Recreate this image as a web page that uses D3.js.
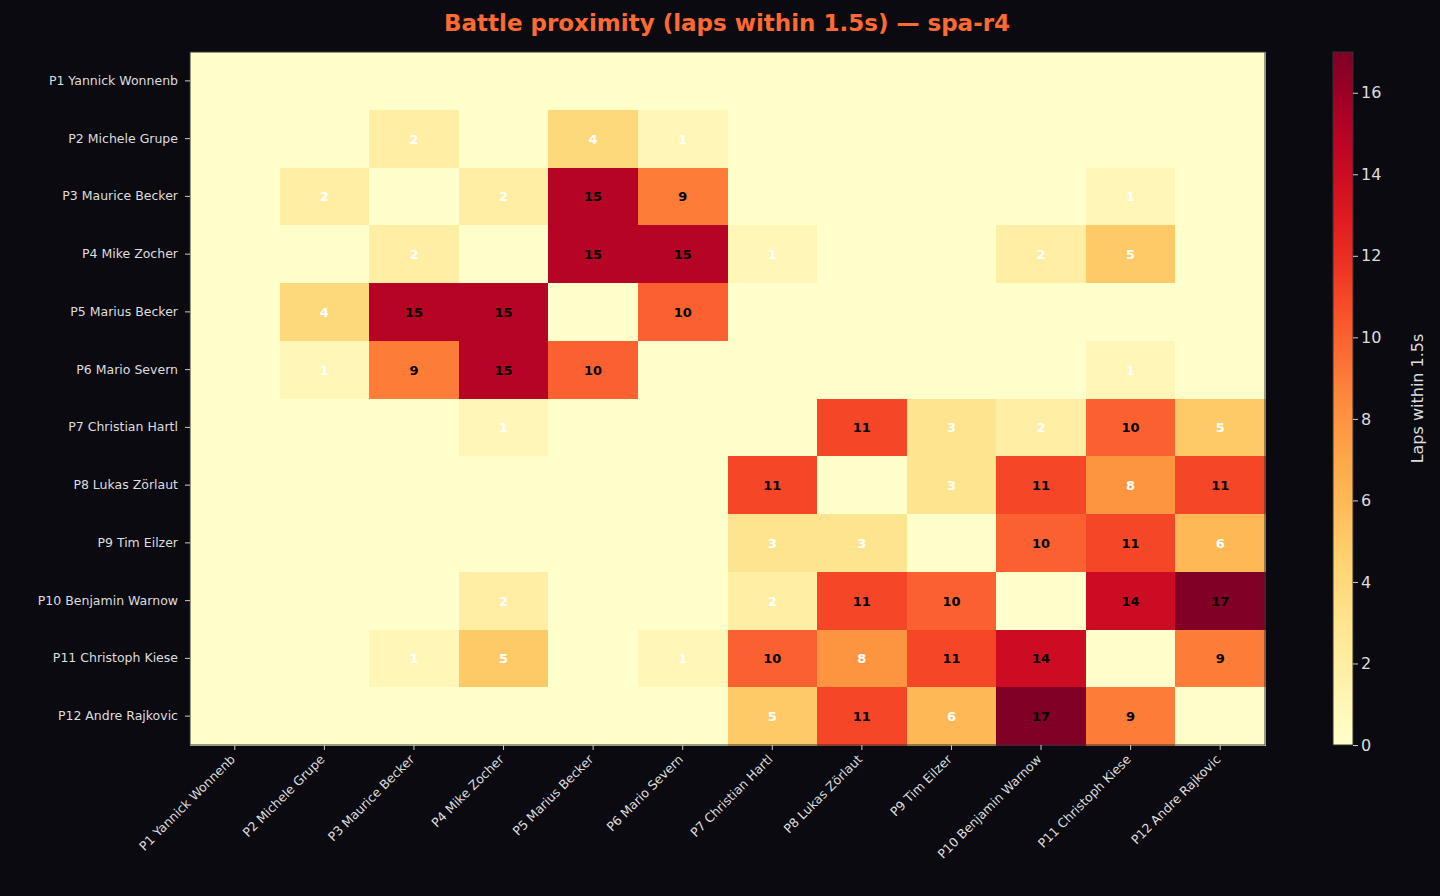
<!DOCTYPE html>
<html><head><meta charset="utf-8">
<script src="https://cdn.jsdelivr.net/npm/d3@7"></script>
<style>body{margin:0;background:#0b0a10;font-family:"DejaVu Sans",sans-serif}</style>
</head><body><svg id="c" width="1440" height="896"></svg>
<script>
var drivers = ["P1 Yannick Wonnenb","P2 Michele Grupe","P3 Maurice Becker","P4 Mike Zocher","P5 Marius Becker","P6 Mario Severn","P7 Christian Hartl","P8 Lukas Zörlaut","P9 Tim Eilzer","P10 Benjamin Warnow","P11 Christoph Kiese","P12 Andre Rajkovic"];
var laps = [
 [0,0,0,0,0,0,0,0,0,0,0,0],
 [0,0,2,0,4,1,0,0,0,0,0,0],
 [0,2,0,2,15,9,0,0,0,0,1,0],
 [0,0,2,0,15,15,1,0,0,2,5,0],
 [0,4,15,15,0,10,0,0,0,0,0,0],
 [0,1,9,15,10,0,0,0,0,0,1,0],
 [0,0,0,1,0,0,0,11,3,2,10,5],
 [0,0,0,0,0,0,11,0,3,11,8,11],
 [0,0,0,0,0,0,3,3,0,10,11,6],
 [0,0,0,2,0,0,2,11,10,0,14,17],
 [0,0,1,5,0,1,10,8,11,14,0,9],
 [0,0,0,0,0,0,5,11,6,17,9,0]
];
var cbTicks = [0,2,4,6,8,10,12,14,16];
var vmax = 17;

var svg = d3.select("#c");
var L = 190, R = 1265, T = 52, B = 745;
var x = d3.scaleBand().domain(drivers).range([L, R]);
var y = d3.scaleBand().domain(drivers).range([T, B]);
var color = d3.scaleSequential(d3.interpolateYlOrRd).domain([0, vmax]);

svg.append("text").attr("x", 727).attr("y", 31).attr("text-anchor", "middle")
  .attr("fill", "#ff6a33").attr("font-size", 23).attr("font-weight", "bold")
  .text("Battle proximity (laps within 1.5s) — spa-r4");

var cells = [];
laps.forEach(function (row, i) { row.forEach(function (v, j) { cells.push({r: i, c: j, v: v}); }); });

svg.selectAll("rect.cell").data(cells).enter().append("rect")
  .attr("shape-rendering", "crispEdges")
  .attr("x", function (d) { return x(drivers[d.c]); })
  .attr("y", function (d) { return y(drivers[d.r]); })
  .attr("width", x.bandwidth() + 1).attr("height", y.bandwidth() + 1)
  .attr("fill", function (d) { return color(d.v); });

svg.selectAll("text.val").data(cells.filter(function (d) { return d.v > 0; })).enter().append("text")
  .attr("x", function (d) { return x(drivers[d.c]) + x.bandwidth() / 2; })
  .attr("y", function (d) { return y(drivers[d.r]) + y.bandwidth() / 2 + 5; })
  .attr("text-anchor", "middle").attr("font-size", 13).attr("font-weight", "bold")
  .attr("fill", function (d) { return d.v > vmax / 2 ? "#000" : "#fff"; })
  .text(function (d) { return d.v; });

svg.append("rect").attr("x", L).attr("y", T).attr("width", R - L).attr("height", B - T)
  .attr("fill", "none").attr("stroke", "#333");

var gx = svg.append("g").attr("transform", "translate(0," + B + ")").call(d3.axisBottom(x).tickSize(5));
gx.selectAll("text").attr("fill", "#ddd").attr("font-size", 12.5)
  .attr("text-anchor", "end").attr("x", 0).attr("y", 0).attr("dy", "0.35em")
  .attr("transform", "translate(-2,12) rotate(-45)");
var gy = svg.append("g").attr("transform", "translate(" + L + ",0)").call(d3.axisLeft(y).tickSize(5));
gy.selectAll("text").attr("fill", "#ddd").attr("font-size", 12.5).attr("x", -12);
[gx, gy].forEach(function (g) { g.select(".domain").remove(); g.selectAll("line").attr("stroke", "#ccc"); g.attr("font-family", "DejaVu Sans"); });

// colorbar
var cbX = 1333, cbW = 20;
var cy = d3.scaleLinear().domain([0, vmax]).range([B, T]);
var grad = svg.append("defs").append("linearGradient").attr("id", "g").attr("x1", 0).attr("y1", 1).attr("x2", 0).attr("y2", 0);
d3.range(0, 1.001, 0.05).forEach(function (t) {
  grad.append("stop").attr("offset", t).attr("stop-color", color(t * vmax));
});
svg.append("rect").attr("x", cbX).attr("y", T).attr("width", cbW).attr("height", B - T)
  .attr("fill", "url(#g)").attr("stroke", "#333");
var gc = svg.append("g").attr("transform", "translate(" + (cbX + cbW) + ",0)")
  .call(d3.axisRight(cy).tickValues(cbTicks).tickSize(5));
gc.select(".domain").remove();
gc.selectAll("line").attr("stroke", "#ccc");
gc.selectAll("text").attr("fill", "#ddd").attr("font-size", 16);
gc.attr("font-family", "DejaVu Sans");
svg.append("text").attr("transform", "translate(1423," + (T + B) / 2 + ") rotate(-90)")
  .attr("text-anchor", "middle").attr("fill", "#ddd").attr("font-size", 16).text("Laps within 1.5s");
</script></body></html>
